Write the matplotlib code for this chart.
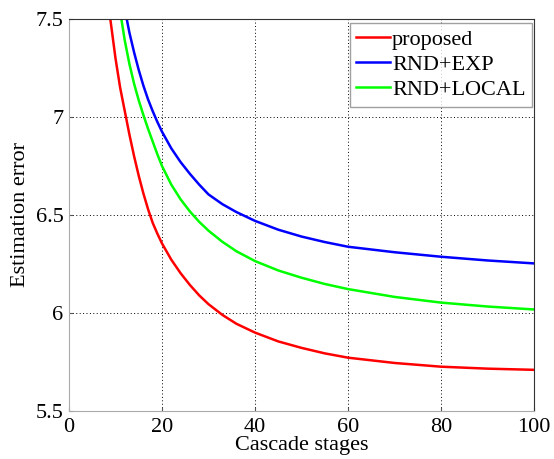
import matplotlib as mpl; mpl.use("Agg")
import matplotlib.pyplot as plt

plt.rcParams.update({"font.family": ["Liberation Serif", "DejaVu Serif"]})

# data
x_red = [8, 9, 10, 11, 12, 13, 14, 15, 16, 17, 18, 19, 20, 22, 24, 26, 28, 30, 33, 36, 40,
         45, 50, 55, 60, 70, 80, 90, 100]
proposed = [7.65, 7.48, 7.30, 7.15, 7.03, 6.91, 6.80, 6.70, 6.61, 6.53, 6.46, 6.405, 6.355,
            6.272, 6.203, 6.143, 6.09, 6.045, 5.99, 5.945, 5.90, 5.855, 5.822, 5.794, 5.772,
            5.745, 5.726, 5.716, 5.71]
x_green = [10, 11, 12, 13, 14, 15, 16, 17, 18, 19, 20, 22, 24, 26, 28, 30, 33, 36, 40, 45,
           50, 55, 60, 70, 80, 90, 100]
rnd_local = [7.72, 7.54, 7.39, 7.27, 7.17, 7.085, 7.01, 6.94, 6.875, 6.81, 6.75, 6.655, 6.58,
             6.518, 6.465, 6.42, 6.363, 6.315, 6.265, 6.217, 6.18, 6.148, 6.122, 6.082, 6.053,
             6.033, 6.018]
x_blue = [11, 12, 13, 14, 15, 16, 17, 18, 19, 20, 22, 24, 26, 28, 30, 33, 36, 40, 45, 50,
          55, 60, 70, 80, 90, 100]
rnd_exp = [7.70, 7.55, 7.43, 7.33, 7.24, 7.16, 7.09, 7.03, 6.975, 6.925, 6.84, 6.77, 6.71,
           6.655, 6.605, 6.555, 6.515, 6.47, 6.425, 6.39, 6.362, 6.338, 6.31, 6.287, 6.268,
           6.253]
xticks = [0, 20, 40, 60, 80, 100]
yticks = [5.5, 6, 6.5, 7, 7.5]

fig = plt.figure(figsize=(5.54, 4.59), dpi=100)
ax = fig.add_axes([0.1245, 0.1046, 0.8395, 0.854])

ax.plot(x_red, proposed, color="#ff0000", lw=1.8, label="proposed")
ax.plot(x_blue, rnd_exp, color="#0000ff", lw=1.8, label="RND+EXP")
ax.plot(x_green, rnd_local, color="#00ff00", lw=1.8, label="RND+LOCAL")

ax.set_xlim(0, 100); ax.set_ylim(5.5, 7.5)
ax.set_xticks(xticks); ax.set_yticks(yticks)
ax.set_xticklabels([str(v) for v in xticks]); ax.set_yticklabels([f"{v:g}" for v in yticks])
ax.grid(True, color="black", ls=(0, (1, 2.5)), lw=0.7)
ax.tick_params(direction="in", length=3, labelsize=16, color="#555555")
ax.tick_params(axis="x", pad=5)
ax.tick_params(axis="y", pad=4)
for s in ["left", "bottom"]:
    ax.spines[s].set_color("#aaaaaa")
for s in ["top", "right"]:
    ax.spines[s].set_color("#333333")
ax.set_xlabel("Cascade stages", fontsize=16, labelpad=-1)
ax.set_ylabel("Estimation error", fontsize=16, labelpad=4)

leg = ax.legend(loc="upper right", bbox_to_anchor=(0.996, 0.99), fontsize=16, frameon=True,
                fancybox=False, edgecolor="#888888", handlelength=1.5, handletextpad=0.1,
                labelspacing=0.2, borderpad=0.3, borderaxespad=0)
leg.get_frame().set_linewidth(1.0)

fig.savefig("out.png", dpi=100, facecolor="white")
